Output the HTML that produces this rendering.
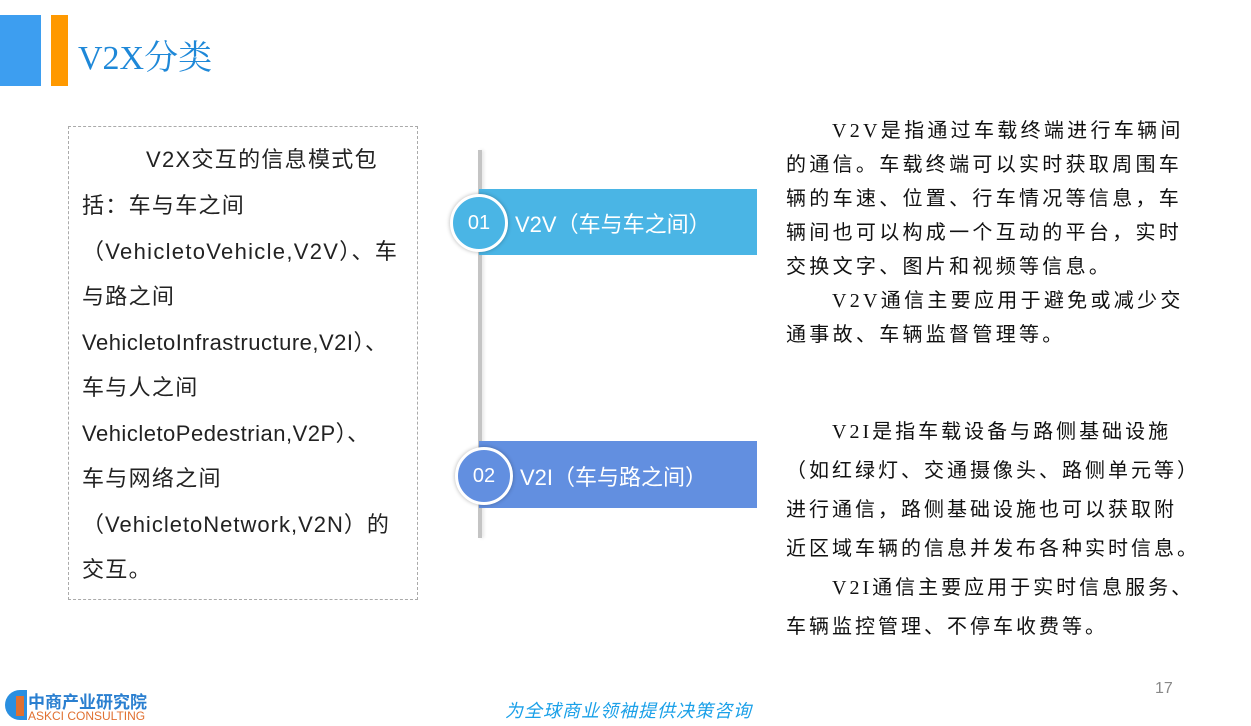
<!DOCTYPE html>
<html><head><meta charset="utf-8"><style>
body{margin:0;width:1251px;height:726px;background:#fff;position:relative;overflow:hidden;font-family:"Liberation Sans","Noto Sans CJK SC",sans-serif}
.a{position:absolute;white-space:nowrap}
.l{font-size:22px;color:#222;letter-spacing:1.3px;left:82px;line-height:30px}
.r{font-family:"Liberation Serif","Noto Sans CJK SC",sans-serif;font-size:20px;color:#111;letter-spacing:3.3px;left:786px;line-height:26px}
.r2{letter-spacing:3px}
</style></head><body>
<div class="a" style="left:0;top:15px;width:41px;height:71px;background:#3d9ef0"></div>
<div class="a" style="left:51px;top:15px;width:17px;height:71px;background:#ff9900"></div>
<div class="a" style="left:78px;top:30px;font-size:34px;color:#1e88d8;font-family:'Liberation Serif','Noto Serif CJK SC',serif">V2X分类</div>

<div class="a" style="left:68px;top:126px;width:348px;height:472px;border:1px dashed #aaa"></div>
<div class="a l" style="top:145px;left:146px">V2X交互的信息模式包</div>
<div class="a l" style="top:191px">括：车与车之间</div>
<div class="a l" style="top:237px">（VehicletoVehicle,V2V）、车</div>
<div class="a l" style="top:282px">与路之间</div>
<div class="a l" style="top:328px;letter-spacing:0.5px">VehicletoInfrastructure,V2I）、</div>
<div class="a l" style="top:373px">车与人之间</div>
<div class="a l" style="top:419px;letter-spacing:0.5px">VehicletoPedestrian,V2P）、</div>
<div class="a l" style="top:464px">车与网络之间</div>
<div class="a l" style="top:510px;letter-spacing:1px">（VehicletoNetwork,V2N）的</div>
<div class="a l" style="top:555px">交互。</div>

<div class="a" style="left:478px;top:150px;width:4px;height:388px;background:#c4c4c4;box-shadow:2px 0 3px rgba(0,0,0,.1)"></div>
<div class="a" style="left:479px;top:189px;width:278px;height:66px;background:#4ab5e5"></div>
<div class="a" style="left:450px;top:194px;width:52px;height:52px;border:3px solid #fff;border-radius:50%;background:#4ab5e5;box-shadow:0 0 4px rgba(0,0,0,.3);color:#fff;font-size:20px;text-align:center;line-height:52px">01</div>
<div class="a" style="left:515px;top:207px;font-size:22px;color:#fff">V2V（车与车之间）</div>
<div class="a" style="left:479px;top:441px;width:278px;height:67px;background:#628fe0"></div>
<div class="a" style="left:455px;top:447px;width:52px;height:52px;border:3px solid #fff;border-radius:50%;background:#628fe0;box-shadow:0 0 4px rgba(0,0,0,.3);color:#fff;font-size:20px;text-align:center;line-height:52px">02</div>
<div class="a" style="left:520px;top:460px;font-size:22px;color:#fff">V2I（车与路之间）</div>

<div class="a r" style="top:118px;left:832px">V2V是指通过车载终端进行车辆间</div>
<div class="a r" style="top:152px">的通信。车载终端可以实时获取周围车</div>
<div class="a r" style="top:186px">辆的车速、位置、行车情况等信息，车</div>
<div class="a r" style="top:220px">辆间也可以构成一个互动的平台，实时</div>
<div class="a r" style="top:254px">交换文字、图片和视频等信息。</div>
<div class="a r" style="top:288px;left:832px">V2V通信主要应用于避免或减少交</div>
<div class="a r" style="top:322px">通事故、车辆监督管理等。</div>

<div class="a r r2" style="top:419px;left:832px">V2I是指车载设备与路侧基础设施</div>
<div class="a r r2" style="top:458px">（如红绿灯、交通摄像头、路侧单元等）</div>
<div class="a r r2" style="top:497px">进行通信，路侧基础设施也可以获取附</div>
<div class="a r r2" style="top:536px">近区域车辆的信息并发布各种实时信息。</div>
<div class="a r r2" style="top:575px;left:832px">V2I通信主要应用于实时信息服务、</div>
<div class="a r r2" style="top:614px">车辆监控管理、不停车收费等。</div>

<div class="a" style="left:1155px;top:680px;font-size:16px;color:#888">17</div>
<div class="a" style="left:5px;top:690px;width:22px;height:30px;border-radius:15px 0 0 15px;background:#2a8fe0"></div>
<div class="a" style="left:16px;top:696px;width:8px;height:20px;background:#e07030"></div>
<div class="a" style="left:28px;top:688px;font-size:17px;font-weight:bold;color:#2a7fd0">中商产业研究院</div>
<div class="a" style="left:28px;top:709px;font-size:12px;color:#e07030">ASKCI CONSULTING</div>
<div class="a" style="left:505px;top:697px;font-size:18px;color:#1aa0e8;font-style:italic;letter-spacing:1px">为全球商业领袖提供决策咨询</div>
</body></html>
